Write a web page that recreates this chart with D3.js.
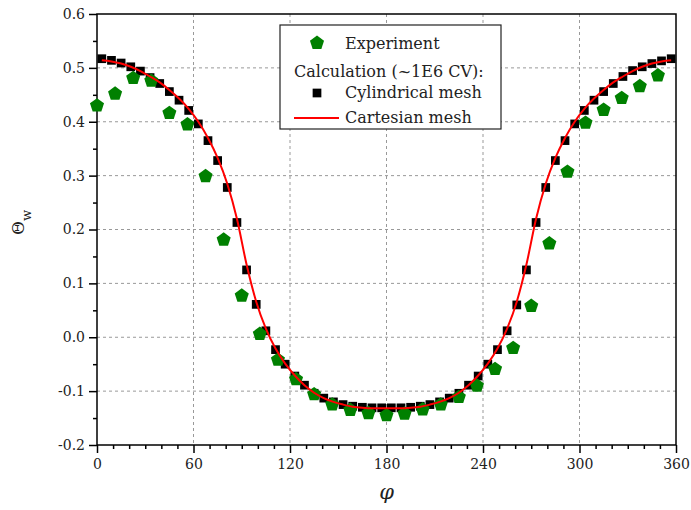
<!DOCTYPE html>
<html lang="en">
<head>
<meta charset="utf-8">
<title>Theta_w vs phi</title>
<script src="https://d3js.org/d3.v7.min.js"></script>
<style>
  body { margin: 0; background: #fff; }
  text { font-family: "DejaVu Serif", serif; fill: #222; }
</style>
</head>
<body>
<script>
// ---- data ----
var expAngles = [0, 11.25, 22.5, 33.75, 45, 56.25, 67.5, 78.75, 90, 101.25, 112.5, 123.75,
                 135, 146.25, 157.5, 168.75, 180, 191.25, 202.5, 213.75, 225, 236.25, 247.5,
                 258.75, 270, 281.25, 292.5, 303.75, 315, 326.25, 337.5, 348.75]
var expValues = [0.430, 0.452, 0.481, 0.476, 0.416, 0.395, 0.299, 0.181, 0.077, 0.006, -0.042, -0.078,
                 -0.106, -0.125, -0.135, -0.141, -0.145, -0.142, -0.134, -0.125, -0.111, -0.090, -0.059,
                 -0.020, 0.058, 0.174, 0.307, 0.398, 0.422, 0.444, 0.466, 0.486]

var meshAngles = [3, 9, 15, 21, 27, 33, 39, 45, 51, 57, 63, 69, 75, 81, 87, 93, 99, 105, 111, 117,
                  123, 129, 135, 141, 147, 153, 159, 165, 171, 177, 183, 189, 195, 201, 207, 213, 219,
                  225, 231, 237, 243, 249, 255, 261, 267, 273, 279, 285, 291, 297, 303, 309, 315, 321,
                  327, 333, 339, 345, 351, 357]
var cylValues = [0.517, 0.514, 0.509, 0.502, 0.494, 0.482, 0.471, 0.456, 0.440, 0.421, 0.396, 0.365,
                 0.328, 0.278, 0.213, 0.125, 0.061, 0.012, -0.023, -0.050, -0.072, -0.089, -0.104,
                 -0.113, -0.120, -0.125, -0.128, -0.130, -0.131, -0.131, -0.131, -0.131, -0.130,
                 -0.128, -0.125, -0.120, -0.113, -0.104, -0.089, -0.072, -0.050, -0.023, 0.012, 0.060,
                 0.125, 0.213, 0.278, 0.328, 0.365, 0.396, 0.421, 0.440, 0.456, 0.471, 0.484, 0.495,
                 0.502, 0.508, 0.513, 0.517]
var cartValues = [0.514, 0.512, 0.508, 0.502, 0.494, 0.484, 0.473, 0.459, 0.443, 0.424, 0.400, 0.370,
                  0.333, 0.285, 0.220, 0.135, 0.066, 0.016, -0.021, -0.049, -0.071, -0.089, -0.103,
                  -0.113, -0.120, -0.125, -0.129, -0.131, -0.132, -0.132, -0.132, -0.132, -0.131,
                  -0.129, -0.125, -0.120, -0.113, -0.103, -0.089, -0.071, -0.049, -0.021, 0.016, 0.066,
                  0.135, 0.220, 0.285, 0.333, 0.370, 0.400, 0.424, 0.443, 0.459, 0.473, 0.484, 0.494,
                  0.502, 0.508, 0.512, 0.514]

var xMajor = [0, 60, 120, 180, 240, 300, 360]
var xMinor = [10, 20, 30, 40, 50, 70, 80, 90, 100, 110, 130, 140, 150, 160, 170, 190, 200, 210, 220,
              230, 250, 260, 270, 280, 290, 310, 320, 330, 340, 350]
var yMajor = [-0.2, -0.1, 0.0, 0.1, 0.2, 0.3, 0.4, 0.5, 0.6]
var yMinor = [-0.15, -0.05, 0.05, 0.15, 0.25, 0.35, 0.45, 0.55]

var legendLabels = ["Experiment", "Calculation (~1E6 CV):", "Cylindrical mesh", "Cartesian mesh"]

// ---- setup ----
var w = 691, h = 510
var pLeft = 97, pRight = 676, pTop = 14, pBottom = 445

var x = d3.scaleLinear().domain([0, 360]).range([pLeft, pRight])
var y = d3.scaleLinear().domain([-0.2, 0.6]).range([pBottom, pTop])

var svg = d3.select("body").append("svg")
            .attr("width", w)
            .attr("height", h)

// pentagon symbol (point up)
var pentagon = {
  draw: function(context, size) {
    var r = Math.sqrt(size / 2.378)
    for (var i = 0; i < 5; i++) {
      var a = -Math.PI / 2 + i * 2 * Math.PI / 5
      if (i == 0) context.moveTo(r * Math.cos(a), r * Math.sin(a))
      else context.lineTo(r * Math.cos(a), r * Math.sin(a))
    }
    context.closePath()
  }
}

// grid
svg.append("g").selectAll("line")
   .data(xMajor.slice(1, -1))
   .enter().append("line")
   .attr("x1", d => x(d)).attr("x2", d => x(d))
   .attr("y1", pTop).attr("y2", pBottom)
   .attr("stroke", "#999").attr("stroke-dasharray", "3,3")

svg.append("g").selectAll("line")
   .data(yMajor.slice(1, -1))
   .enter().append("line")
   .attr("y1", d => y(d)).attr("y2", d => y(d))
   .attr("x1", pLeft).attr("x2", pRight)
   .attr("stroke", "#999").attr("stroke-dasharray", "3,3")

// axes
svg.append("g")
   .attr("transform", "translate(0," + pBottom + ")")
   .call(d3.axisBottom(x).tickValues(xMajor).tickSize(8).tickSizeOuter(0).tickPadding(6)
         .tickFormat(d => d))
svg.append("g")
   .attr("transform", "translate(0," + pBottom + ")")
   .call(d3.axisBottom(x).tickValues(xMinor).tickSize(4).tickFormat(""))

svg.append("g")
   .attr("transform", "translate(" + pLeft + ",0)")
   .call(d3.axisLeft(y).tickValues(yMajor).tickSize(8).tickSizeOuter(0).tickPadding(4)
         .tickFormat(d => d.toFixed(1)))
svg.append("g")
   .attr("transform", "translate(" + pLeft + ",0)")
   .call(d3.axisLeft(y).tickValues(yMinor).tickSize(4).tickFormat(""))

svg.selectAll(".domain").remove()
svg.selectAll(".tick line").attr("stroke", "#000").attr("stroke-width", 1.5)
svg.selectAll(".tick text")
   .style("font-family", "DejaVu Serif, serif")
   .style("font-size", "14px")
   .attr("fill", "#222")

// frame
svg.append("rect")
   .attr("x", pLeft).attr("y", pTop)
   .attr("width", pRight - pLeft).attr("height", pBottom - pTop)
   .attr("fill", "none").attr("stroke", "#000").attr("stroke-width", 1.5)

// cylindrical mesh squares
svg.append("g").selectAll("path")
   .data(meshAngles)
   .enter().append("path")
   .attr("d", d3.symbol(d3.symbolSquare, 76))
   .attr("transform", (d, i) => "translate(" + x(d) + "," + y(cylValues[i]) + ")")
   .attr("fill", "#000")

// experiment pentagons
svg.append("g").selectAll("path")
   .data(expAngles)
   .enter().append("path")
   .attr("d", d3.symbol(pentagon, 130))
   .attr("transform", (d, i) => "translate(" + x(d) + "," + y(expValues[i]) + ")")
   .attr("fill", "#008000")

// cartesian mesh line
var line = d3.line()
   .x(d => x(d[0]))
   .y(d => y(d[1]))
   .curve(d3.curveMonotoneX)

svg.append("path")
   .datum(meshAngles.map((a, i) => [a, cartValues[i]]))
   .attr("d", line)
   .attr("fill", "none")
   .attr("stroke", "#ff0000")
   .attr("stroke-width", 2)

// legend
var lg = svg.append("g")
lg.append("rect")
  .attr("x", 280).attr("y", 25).attr("width", 221).attr("height", 104)
  .attr("fill", "#fff").attr("stroke", "#222").attr("stroke-width", 1.2)
lg.append("path")
  .attr("d", d3.symbol(pentagon, 130))
  .attr("transform", "translate(317,43)")
  .attr("fill", "#008000")
lg.append("path")
  .attr("d", d3.symbol(d3.symbolSquare, 76))
  .attr("transform", "translate(317,93)")
  .attr("fill", "#000")
lg.append("line")
  .attr("x1", 294).attr("x2", 339).attr("y1", 118).attr("y2", 118)
  .attr("stroke", "#ff0000").attr("stroke-width", 2)
lg.selectAll("text")
  .data(legendLabels)
  .enter().append("text")
  .attr("x", (d, i) => i == 1 ? 294 : 345)
  .attr("y", (d, i) => [49, 77, 98, 123][i])
  .style("font-size", "16px")
  .text(d => d)

// axis titles
var yt = svg.append("text")
   .attr("transform", "translate(24,235) rotate(-90)")
   .style("font-size", "17px")
yt.append("tspan").text("Θ")
yt.append("tspan").attr("dy", 7).style("font-size", "13px").text("w")

svg.append("text")
   .attr("x", (pLeft + pRight) / 2).attr("y", 499)
   .attr("text-anchor", "middle")
   .style("font-size", "21px").style("font-style", "italic")
   .text("φ")
</script>
</body>
</html>
